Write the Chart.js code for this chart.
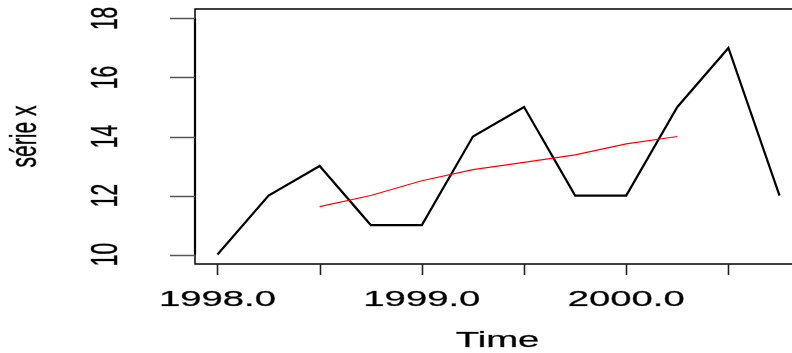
<!DOCTYPE html>
<html>
<head>
<meta charset="utf-8">
<script src="https://cdn.jsdelivr.net/npm/chart.js@4/dist/chart.umd.min.js"></script>
<style>
  html, body { margin: 0; padding: 0; background: #fff; overflow: hidden; }
  #wrap { width: 812px; height: 353px; }
</style>
</head>
<body>
<div id="wrap"><canvas id="c" width="812" height="353"></canvas></div>
<script>
// Quarterly series, 1998 Q1 .. 2000 Q4
const times = [1998.0, 1998.25, 1998.5, 1998.75, 1999.0, 1999.25, 1999.5, 1999.75, 2000.0, 2000.25, 2000.5, 2000.75];
const serieX = [10, 12, 13, 11, 11, 14, 15, 12, 12, 15, 17, 12];
// Centred 4-quarter moving average (1998.5 .. 2000.25)
const maTimes = [1998.5, 1998.75, 1999.0, 1999.25, 1999.5, 1999.75, 2000.0, 2000.25];
const maValues = [11.625, 12, 12.5, 12.875, 13.125, 13.375, 13.75, 14];
// Axis ticks and labels
const xTicks = [1998.0, 1998.5, 1999.0, 1999.5, 2000.0, 2000.5];
const xTickLabels = ['1998.0', '', '1999.0', '', '2000.0', ''];
const yTicks = [10, 12, 14, 16, 18];
const yTickLabels = ['10', '12', '14', '16', '18'];
const xTitle = 'Time';
const yTitle = 'série x';

const FONT = '"Liberation Sans", Arial, sans-serif';
const SX = 1.78; // horizontal stretch of the lettering

// draw text with a faint outline so it reads a little heavier
function drawText(ctx, txt) {
  ctx.fillText(txt, 0, 0);
  ctx.strokeText(txt, 0, 0);
}

const axesPlugin = {
  id: 'rAxes',
  afterDraw(chart) {
    const ctx = chart.ctx;
    const a = chart.chartArea;
    const xs = chart.scales.x, ys = chart.scales.y;
    ctx.save();
    // plot box
    ctx.strokeStyle = '#000';
    ctx.lineWidth = 1.5;
    ctx.strokeRect(a.left, a.top, a.right - a.left, a.bottom - a.top);
    // y axis line over the ticks
    ctx.lineWidth = 2.2;
    ctx.beginPath();
    ctx.moveTo(a.left, ys.getPixelForValue(yTicks[0]));
    ctx.lineTo(a.left, ys.getPixelForValue(yTicks[yTicks.length - 1]));
    ctx.stroke();

    // y ticks
    ctx.strokeStyle = '#555';
    ctx.lineWidth = 1.5;
    yTicks.forEach(v => {
      const y = Math.round(ys.getPixelForValue(v)) + 0.5;
      ctx.beginPath();
      ctx.moveTo(a.left - 25, y);
      ctx.lineTo(a.left, y);
      ctx.stroke();
    });
    // x ticks
    ctx.strokeStyle = '#222';
    ctx.lineWidth = 1.6;
    xTicks.forEach(v => {
      const x = Math.round(xs.getPixelForValue(v)) + 0.5;
      ctx.beginPath();
      ctx.moveTo(x, a.bottom);
      ctx.lineTo(x, a.bottom + 11);
      ctx.stroke();
    });

    ctx.fillStyle = '#000';
    ctx.strokeStyle = 'rgba(0,0,0,0.5)';
    ctx.lineWidth = 0.5;
    ctx.font = '21.5px ' + FONT;
    // x tick labels
    ctx.textAlign = 'center';
    ctx.textBaseline = 'alphabetic';
    xTicks.forEach((v, i) => {
      if (!xTickLabels[i]) return;
      ctx.save();
      ctx.translate(xs.getPixelForValue(v), 306);
      ctx.scale(SX, 1);
      drawText(ctx, xTickLabels[i]);
      ctx.restore();
    });
    // y tick labels, reading upward
    ctx.font = '21px ' + FONT;
    yTicks.forEach((v, i) => {
      ctx.save();
      ctx.translate(117, ys.getPixelForValue(v));
      ctx.scale(1.75, 1);
      ctx.rotate(-Math.PI / 2);
      drawText(ctx, yTickLabels[i]);
      ctx.restore();
    });
    // axis titles
    ctx.font = '21.5px ' + FONT;
    ctx.save();
    ctx.translate((a.left + 792) / 2 + 4, 347);
    ctx.scale(SX, 1);
    drawText(ctx, xTitle);
    ctx.restore();
    ctx.font = '21px ' + FONT;
    ctx.save();
    ctx.translate(36, (a.top + a.bottom) / 2);
    ctx.scale(1.75, 1);
    ctx.rotate(-Math.PI / 2);
    drawText(ctx, yTitle);
    ctx.restore();
    ctx.restore();
  }
};

new Chart(document.getElementById('c'), {
  type: 'line',
  data: {
    datasets: [
      {
        data: times.map((t, i) => ({ x: t, y: serieX[i] })),
        borderColor: '#000',
        borderWidth: 2.2,
        pointRadius: 0,
        tension: 0,
        order: 2
      },
      {
        data: maTimes.map((t, i) => ({ x: t, y: maValues[i] })),
        borderColor: '#ff0000',
        borderWidth: 1.2,
        pointRadius: 0,
        tension: 0,
        order: 1
      }
    ]
  },
  options: {
    responsive: false,
    animation: false,
    devicePixelRatio: 1,
    layout: { padding: { left: 195, top: 9, right: 10, bottom: 89 } },
    plugins: { legend: { display: false }, tooltip: { enabled: false } },
    scales: {
      x: { type: 'linear', display: false, min: 1997.89, max: 2000.86 },
      y: { type: 'linear', display: false, min: 9.68, max: 18.32 }
    }
  },
  plugins: [axesPlugin]
});
</script>
</body>
</html>
